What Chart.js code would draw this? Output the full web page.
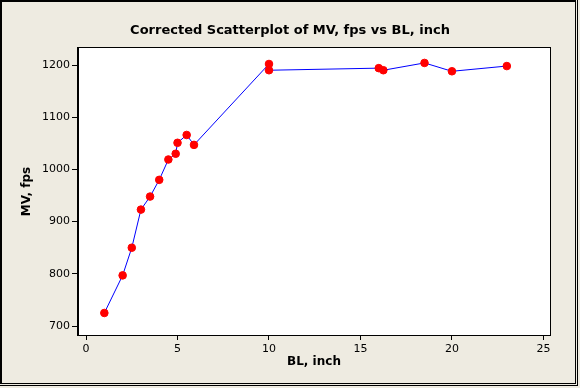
<!DOCTYPE html>
<html>
<head>
<meta charset="utf-8">
<script src="https://cdn.jsdelivr.net/npm/chart.js@4"></script>
<style>
  html, body { margin: 0; padding: 0; background: #eeebe1; }
  #wrap { width: 580px; height: 388px; }
</style>
</head>
<body>
<div id="wrap"><canvas id="chart" width="580" height="388"></canvas></div>
<script>
const blInch = [1, 2, 2.5, 3, 3.5, 4, 4.5, 4.9, 5, 5.5, 5.9, 10, 10, 16, 16.25, 18.5, 20, 23];
const mvFps = [725, 797, 850, 923, 948, 980, 1019, 1030, 1051, 1066, 1047, 1202, 1190, 1194, 1190, 1204, 1188, 1198];

const xTicks = [0, 5, 10, 15, 20, 25];
const yTicks = [700, 800, 900, 1000, 1100, 1200];

const chartTitle = "Corrected Scatterplot of MV, fps vs BL, inch";
const xTitle = "BL, inch";
const yTitle = "MV, fps";

const beige = "#eeebe1";
const fontFamily = "'DejaVu Sans', Verdana, sans-serif";

const points = blInch.map((x, i) => ({ x: x, y: mvFps[i] }));

// background, white plot box and the window-like frame
const framePlugin = {
  id: "frame",
  beforeDraw(chart) {
    const ctx = chart.ctx;
    const a = chart.chartArea;
    ctx.save();
    ctx.fillStyle = beige;
    ctx.fillRect(0, 0, chart.width, chart.height);
    ctx.fillStyle = "#ffffff";
    ctx.fillRect(a.left, a.top, a.right - a.left, a.bottom - a.top);
    ctx.restore();
  },
  afterDraw(chart) {
    const ctx = chart.ctx;
    const a = chart.chartArea;
    ctx.save();
    ctx.strokeStyle = "#000";
    ctx.lineWidth = 1;
    ctx.strokeRect(Math.round(a.left) - 0.5, Math.round(a.top) - 0.5,
      Math.round(a.right - a.left) + 1, Math.round(a.bottom - a.top) + 1);
    ctx.fillStyle = "#000";
    ctx.fillRect(0, 0, 576, 2);
    ctx.fillRect(0, 0, 2, 384);
    ctx.fillRect(575, 0, 1, 384);
    ctx.fillRect(0, 383, 576, 1);
    ctx.fillRect(577, 0, 1, 386);
    ctx.fillRect(0, 385, 578, 1);
    ctx.restore();
  },
};

new Chart(document.getElementById("chart").getContext("2d"), {
  type: "scatter",
  data: {
    datasets: [
      {
        label: yTitle,
        data: points,
        showLine: true,
        borderColor: "#0000ff",
        borderWidth: 1,
        backgroundColor: "#ff0000",
        pointBackgroundColor: "#ff0000",
        pointBorderColor: "#ff0000",
        pointRadius: 3.8,
        pointBorderWidth: 1,
        tension: 0,
      },
    ],
  },
  options: {
    responsive: false,
    animation: false,
    layout: { padding: 0 },
    scales: {
      x: {
        type: "linear",
        min: -0.44,
        max: 25.36,
        afterBuildTicks: (s) => { s.ticks = xTicks.map((v) => ({ value: v })); },
        afterFit: (s) => { s.height = 388 - 335; },
        grid: { drawOnChartArea: false, drawTicks: true, tickLength: 5, color: "#000" },
        border: { display: true, color: "#000" },
        ticks: {
          color: "#000",
          padding: 3,
          maxRotation: 0,
          font: { family: fontFamily, size: 11 },
          callback: (v) => String(v),
        },
        title: {
          display: true,
          text: xTitle,
          color: "#000",
          padding: { top: 0, bottom: 19 },
          font: { family: fontFamily, size: 12, weight: "bold" },
        },
      },
      y: {
        type: "linear",
        min: 682.8,
        max: 1232.6,
        afterBuildTicks: (s) => { s.ticks = yTicks.map((v) => ({ value: v })); },
        afterFit: (s) => { s.width = 78; },
        grid: { drawOnChartArea: false, drawTicks: true, tickLength: 6, color: "#000" },
        border: { display: true, color: "#000" },
        ticks: {
          color: "#000",
          padding: 2,
          font: { family: fontFamily, size: 11 },
          callback: (v) => String(v),
        },
        title: {
          display: true,
          text: yTitle,
          color: "#000",
          padding: { top: 20, bottom: 0 },
          font: { family: fontFamily, size: 12, weight: "bold" },
        },
      },
      yRight: {
        type: "linear",
        position: "right",
        display: true,
        afterFit: (s) => { s.width = 580 - 550; },
        grid: { display: false, drawTicks: false },
        border: { display: false },
        ticks: { display: false },
      },
    },
    plugins: {
      legend: { display: false },
      tooltip: { enabled: false },
      title: {
        display: true,
        text: chartTitle,
        color: "#000",
        font: { family: fontFamily, size: 13, weight: "bold", lineHeight: 1.2 },
        padding: { top: 23, bottom: 48 - 23 - 15.6 },
      },
    },
  },
  plugins: [framePlugin],
});
</script>
</body>
</html>
